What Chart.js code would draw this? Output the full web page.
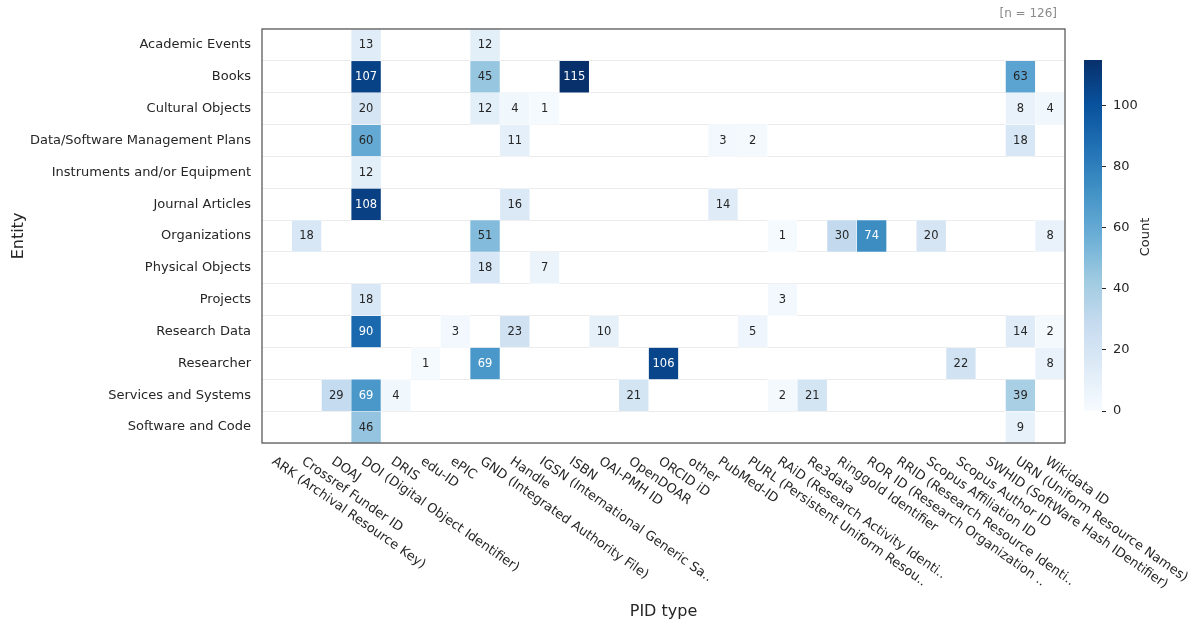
<!DOCTYPE html>
<html>
<head>
<meta charset="utf-8">
<script src="https://cdn.jsdelivr.net/npm/chart.js@4/dist/chart.umd.min.js"></script>
<style>
  html, body { margin: 0; padding: 0; background: #fff; }
  #wrap { position: relative; width: 1200px; height: 630px; }
  #heat { position: absolute; left: 0; top: 0; }
  #cbar { position: absolute; left: 1060px; top: 0; }
</style>
</head>
<body>
<div id="wrap">
  <canvas id="heat" width="1200" height="630"></canvas>
  <canvas id="cbar" width="140" height="630"></canvas>
</div>
<script>
const _ = null;

const pidTypes = [
  "ARK (Archival Resource Key)", "Crossref Funder ID", "DOAJ", "DOI (Digital Object Identifier)",
  "DRIS", "edu-ID", "ePIC", "GND (Integrated Authority File)", "Handle",
  "IGSN (International Generic Sa..", "ISBN", "OAI-PMH ID", "OpenDOAR", "ORCID iD", "other",
  "PubMed-ID", "PURL (Persistent Uniform Resou..", "RAiD (Research Activity Identi..", "Re3data",
  "Ringgold Identifier", "ROR ID (Research Organization ..", "RRID (Research Resource Identi..",
  "Scopus Affiliation ID", "Scopus Author ID", "SWHID (SoftWare Hash IDentifier)",
  "URN (Uniform Resource Names)", "Wikidata ID"
];

const entities = [
  "Academic Events", "Books", "Cultural Objects", "Data/Software Management Plans",
  "Instruments and/or Equipment", "Journal Articles", "Organizations", "Physical Objects",
  "Projects", "Research Data", "Researcher", "Services and Systems", "Software and Code"
];

// one row per entity, one value per PID type (groups of 9 columns)
const academicEvents   = [_,_,_,13,_,_,_,12,_,   _,_,_,_,_,_,_,_,_,   _,_,_,_,_,_,_,_,_];
const books            = [_,_,_,107,_,_,_,45,_,  _,115,_,_,_,_,_,_,_, _,_,_,_,_,_,_,63,_];
const culturalObjects  = [_,_,_,20,_,_,_,12,4,   1,_,_,_,_,_,_,_,_,   _,_,_,_,_,_,_,8,4];
const mgmtPlans        = [_,_,_,60,_,_,_,_,11,   _,_,_,_,_,_,3,2,_,   _,_,_,_,_,_,_,18,_];
const instruments      = [_,_,_,12,_,_,_,_,_,    _,_,_,_,_,_,_,_,_,   _,_,_,_,_,_,_,_,_];
const journalArticles  = [_,_,_,108,_,_,_,_,16,  _,_,_,_,_,_,14,_,_,  _,_,_,_,_,_,_,_,_];
const organizations    = [_,18,_,_,_,_,_,51,_,   _,_,_,_,_,_,_,_,1,   _,30,74,_,20,_,_,_,8];
const physicalObjects  = [_,_,_,_,_,_,_,18,_,    7,_,_,_,_,_,_,_,_,   _,_,_,_,_,_,_,_,_];
const projects         = [_,_,_,18,_,_,_,_,_,    _,_,_,_,_,_,_,_,3,   _,_,_,_,_,_,_,_,_];
const researchData     = [_,_,_,90,_,_,3,_,23,   _,_,10,_,_,_,_,5,_,  _,_,_,_,_,_,_,14,2];
const researcher       = [_,_,_,_,_,1,_,69,_,    _,_,_,_,106,_,_,_,_, _,_,_,_,_,22,_,_,8];
const services         = [_,_,29,69,4,_,_,_,_,   _,_,_,21,_,_,_,_,2,  21,_,_,_,_,_,_,39,_];
const softwareCode     = [_,_,_,46,_,_,_,_,_,    _,_,_,_,_,_,_,_,_,   _,_,_,_,_,_,_,9,_];

const counts = [academicEvents, books, culturalObjects, mgmtPlans, instruments, journalArticles,
  organizations, physicalObjects, projects, researchData, researcher, services, softwareCode];

const cbMax = 115;
const cbTicks = [0, 20, 40, 60, 80, 100];
const nLabel = "[n = 126]";

// matplotlib "Blues"
const blues = ['#f7fbff','#deebf7','#c6dbef','#9ecae1','#6baed6','#4292c6','#2171b5','#08519c','#08306b'];

function hexRgb(h) {
  return [parseInt(h.slice(1,3),16), parseInt(h.slice(3,5),16), parseInt(h.slice(5,7),16)];
}
function blueFor(v) {
  let t = Math.max(0, Math.min(1, v / cbMax)) * 8;
  let i = Math.min(7, Math.floor(t));
  let f = t - i;
  let a = hexRgb(blues[i]), b = hexRgb(blues[i + 1]);
  let c = a.map((x, k) => Math.round(x + (b[k] - x) * f));
  return `rgb(${c[0]},${c[1]},${c[2]})`;
}

Chart.defaults.font.family = "'DejaVu Sans', sans-serif";
Chart.defaults.color = '#262626';

const textColor = '#262626';

const cellText = {
  id: 'cellText',
  afterDatasetsDraw(chart) {
    const ctx = chart.ctx;
    ctx.save();
    ctx.font = "11.5px 'DejaVu Sans'";
    ctx.textAlign = 'center';
    ctx.textBaseline = 'middle';
    chart.data.datasets.forEach((ds, di) => {
      const meta = chart.getDatasetMeta(di);
      meta.data.forEach((el, i) => {
        const v = counts[di][i];
        if (v == null) return;
        const p = el.getCenterPoint();
        ctx.fillStyle = v > 65 ? '#ffffff' : textColor;
        ctx.fillText(String(v), p.x, p.y + 0.5);
      });
    });
    ctx.restore();
  },
  afterDraw(chart) {
    const ctx = chart.ctx;
    const ca = chart.chartArea;
    const xs = chart.scales.x;
    ctx.save();
    // frame
    ctx.strokeStyle = '#555555';
    ctx.lineWidth = 1.25;
    ctx.strokeRect(ca.left, ca.top, ca.right - ca.left, ca.bottom - ca.top);
    // rotated x labels
    ctx.fillStyle = textColor;
    ctx.font = "13px 'DejaVu Sans'";
    ctx.textAlign = 'left';
    ctx.textBaseline = 'top';
    pidTypes.forEach((lab, i) => {
      const x = xs.getPixelForValue(i);
      ctx.save();
      ctx.translate(x, ca.bottom + 12);
      ctx.rotate(35 * Math.PI / 180);
      ctx.fillText(lab, 0, 0);
      ctx.restore();
    });
    // x title
    ctx.font = "16px 'DejaVu Sans'";
    ctx.textAlign = 'center';
    ctx.textBaseline = 'middle';
    ctx.fillText('PID type', (ca.left + ca.right) / 2, 612);
    // n label
    ctx.fillStyle = '#8a8a8a';
    ctx.font = "12px 'DejaVu Sans'";
    ctx.textAlign = 'right';
    ctx.fillText(nLabel, 1057, 14);
    ctx.restore();
  }
};

new Chart(document.getElementById('heat'), {
  type: 'bar',
  data: {
    labels: pidTypes,
    datasets: counts.map((row, r) => ({
      label: entities[r],
      data: row.map(v => v == null ? null : [r - 0.5, r + 0.5]),
      backgroundColor: row.map(v => v == null ? 'rgba(0,0,0,0)' : blueFor(v)),
      borderColor: '#ffffff',
      borderWidth: 0.5,
      borderSkipped: false,
      grouped: false,
      barPercentage: 1,
      categoryPercentage: 1
    }))
  },
  plugins: [cellText],
  options: {
    responsive: false,
    animation: false,
    layout: { padding: { top: 29, right: 135, left: 0, bottom: 0 } },
    plugins: { legend: { display: false }, tooltip: { enabled: false } },
    scales: {
      x: {
        type: 'category',
        grid: { display: false },
        border: { display: false },
        ticks: { display: false },
        afterFit(s) { s.height = 187; }
      },
      y: {
        type: 'linear',
        min: -0.5,
        max: 12.5,
        reverse: true,
        z: 1,
        afterBuildTicks(s) { s.ticks = entities.map((e, i) => ({ value: i })); },
        ticks: {
          autoSkip: false,
          padding: 11,
          font: { size: 13 },
          color: textColor,
          callback: v => entities[v]
        },
        grid: { offset: true, color: '#ebebeb', lineWidth: 1, drawTicks: false },
        border: { display: false },
        title: { display: true, text: 'Entity', font: { size: 16 }, color: textColor, padding: { top: 9, bottom: 0 } },
        afterFit(s) { s.width = 262; }
      }
    }
  }
});

const cbLabel = {
  id: 'cbLabel',
  afterDraw(chart) {
    const ctx = chart.ctx;
    ctx.save();
    ctx.fillStyle = textColor;
    ctx.font = "13px 'DejaVu Sans'";
    ctx.textAlign = 'center';
    ctx.textBaseline = 'middle';
    ctx.translate(86, 237);
    ctx.rotate(-Math.PI / 2);
    ctx.fillText('Count', 0, 0);
    ctx.restore();
  }
};

new Chart(document.getElementById('cbar'), {
  type: 'bar',
  data: {
    labels: ['Count'],
    datasets: [{
      data: [[0, cbMax]],
      backgroundColor(c) {
        const ca = c.chart.chartArea;
        if (!ca) return blues[0];
        const g = c.chart.ctx.createLinearGradient(0, ca.bottom, 0, ca.top);
        blues.forEach((col, i) => g.addColorStop(i / (blues.length - 1), col));
        return g;
      },
      borderWidth: 0,
      barPercentage: 1,
      categoryPercentage: 1
    }]
  },
  plugins: [cbLabel],
  options: {
    responsive: false,
    animation: false,
    layout: { padding: { top: 60, left: 24, right: 0, bottom: 219 } },
    plugins: { legend: { display: false }, tooltip: { enabled: false } },
    scales: {
      x: { display: false },
      y: {
        position: 'right',
        min: 0,
        max: cbMax,
        afterBuildTicks(s) { s.ticks = cbTicks.map(v => ({ value: v })); },
        ticks: { padding: 7, font: { size: 13 }, color: textColor },
        grid: { drawOnChartArea: false, drawTicks: true, tickLength: 4, tickColor: '#262626', tickWidth: 1 },
        border: { display: false },
        afterFit(s) { s.width = 98; }
      }
    }
  }
});
</script>
</body>
</html>
